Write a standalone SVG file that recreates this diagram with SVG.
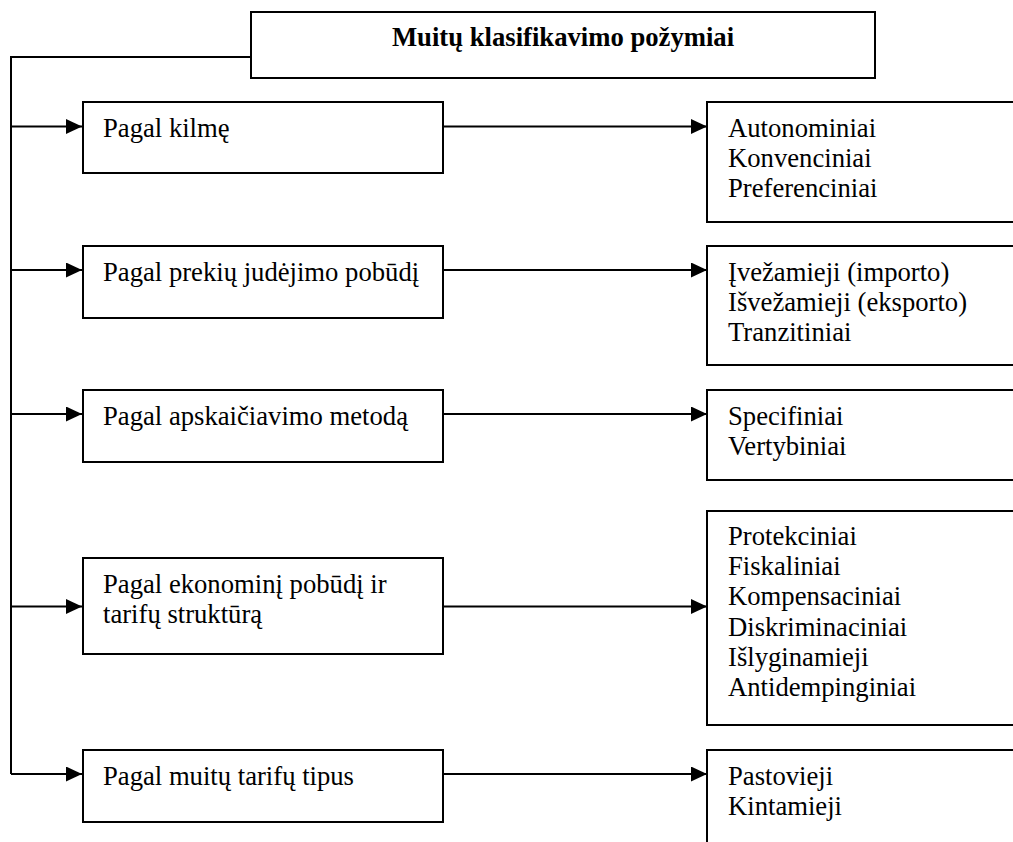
<svg xmlns="http://www.w3.org/2000/svg" width="1013" height="842" viewBox="0 0 1013 842">
<style>
.box{fill:#fff;stroke:#000;stroke-width:2}
.t{font-family:"Liberation Serif","Times New Roman",serif;font-size:26.67px;fill:#000}
.b{font-weight:bold}
.c{fill:none;stroke:#000;stroke-width:2}
</style>
<defs>
<marker id="ah" markerUnits="userSpaceOnUse" markerWidth="17" markerHeight="16" refX="16" refY="7.5" orient="auto">
<path d="M0,0 L16,7.5 L0,15 Z" fill="#000"/>
</marker>
</defs>
<rect width="1013" height="842" fill="#fff"/>
<g id="connectors">
<path class="c" d="M251,57 H11 V774"/>
<path class="c" d="M11,126.5 H82" marker-end="url(#ah)"/>
<path class="c" d="M11,270 H82" marker-end="url(#ah)"/>
<path class="c" d="M11,414 H82" marker-end="url(#ah)"/>
<path class="c" d="M11,606.5 H82" marker-end="url(#ah)"/>
<path class="c" d="M11,774 H82" marker-end="url(#ah)"/>
<path class="c" d="M443,126.5 H707" marker-end="url(#ah)"/>
<path class="c" d="M443,270 H707" marker-end="url(#ah)"/>
<path class="c" d="M443,414 H707" marker-end="url(#ah)"/>
<path class="c" d="M443,606.5 H707" marker-end="url(#ah)"/>
<path class="c" d="M443,774 H707" marker-end="url(#ah)"/>
</g>
<g id="root">
<rect class="box" x="251" y="12" width="624" height="66"/>
<text class="t b" x="563" y="46" text-anchor="middle">Muitų klasifikavimo požymiai</text>
</g>
<g id="n1">
<rect class="box" x="83" y="102" width="360" height="71"/>
<text class="t" x="103" y="137">Pagal kilmę</text>
</g>
<g id="n2">
<rect class="box" x="83" y="246" width="360" height="72"/>
<text class="t" x="103" y="281">Pagal prekių judėjimo pobūdį</text>
</g>
<g id="n3">
<rect class="box" x="83" y="390" width="360" height="72"/>
<text class="t" x="103" y="425">Pagal apskaičiavimo metodą</text>
</g>
<g id="n4">
<rect class="box" x="83" y="558" width="360" height="96"/>
<text class="t" x="103" y="593">Pagal ekonominį pobūdį ir</text>
<text class="t" x="103" y="623">tarifų struktūrą</text>
</g>
<g id="n5">
<rect class="box" x="83" y="750" width="360" height="72"/>
<text class="t" x="103" y="785">Pagal muitų tarifų tipus</text>
</g>
<g id="r1">
<rect class="box" x="707" y="102" width="320" height="120"/>
<text class="t" x="728" y="137">Autonominiai</text>
<text class="t" x="728" y="167">Konvenciniai</text>
<text class="t" x="728" y="197">Preferenciniai</text>
</g>
<g id="r2">
<rect class="box" x="707" y="246" width="320" height="119"/>
<text class="t" x="728" y="281">Įvežamieji (importo)</text>
<text class="t" x="728" y="311">Išvežamieji (eksporto)</text>
<text class="t" x="728" y="341">Tranzitiniai</text>
</g>
<g id="r3">
<rect class="box" x="707" y="390" width="320" height="90"/>
<text class="t" x="728" y="425">Specifiniai</text>
<text class="t" x="728" y="455">Vertybiniai</text>
</g>
<g id="r4">
<rect class="box" x="707" y="511" width="320" height="214"/>
<text class="t" x="728" y="545">Protekciniai</text>
<text class="t" x="728" y="575">Fiskaliniai</text>
<text class="t" x="728" y="605">Kompensaciniai</text>
<text class="t" x="728" y="636">Diskriminaciniai</text>
<text class="t" x="728" y="666">Išlyginamieji</text>
<text class="t" x="728" y="696">Antidempinginiai</text>
</g>
<g id="r5">
<rect class="box" x="707" y="750" width="320" height="110"/>
<text class="t" x="728" y="785">Pastovieji</text>
<text class="t" x="728" y="815">Kintamieji</text>
</g>
</svg>
